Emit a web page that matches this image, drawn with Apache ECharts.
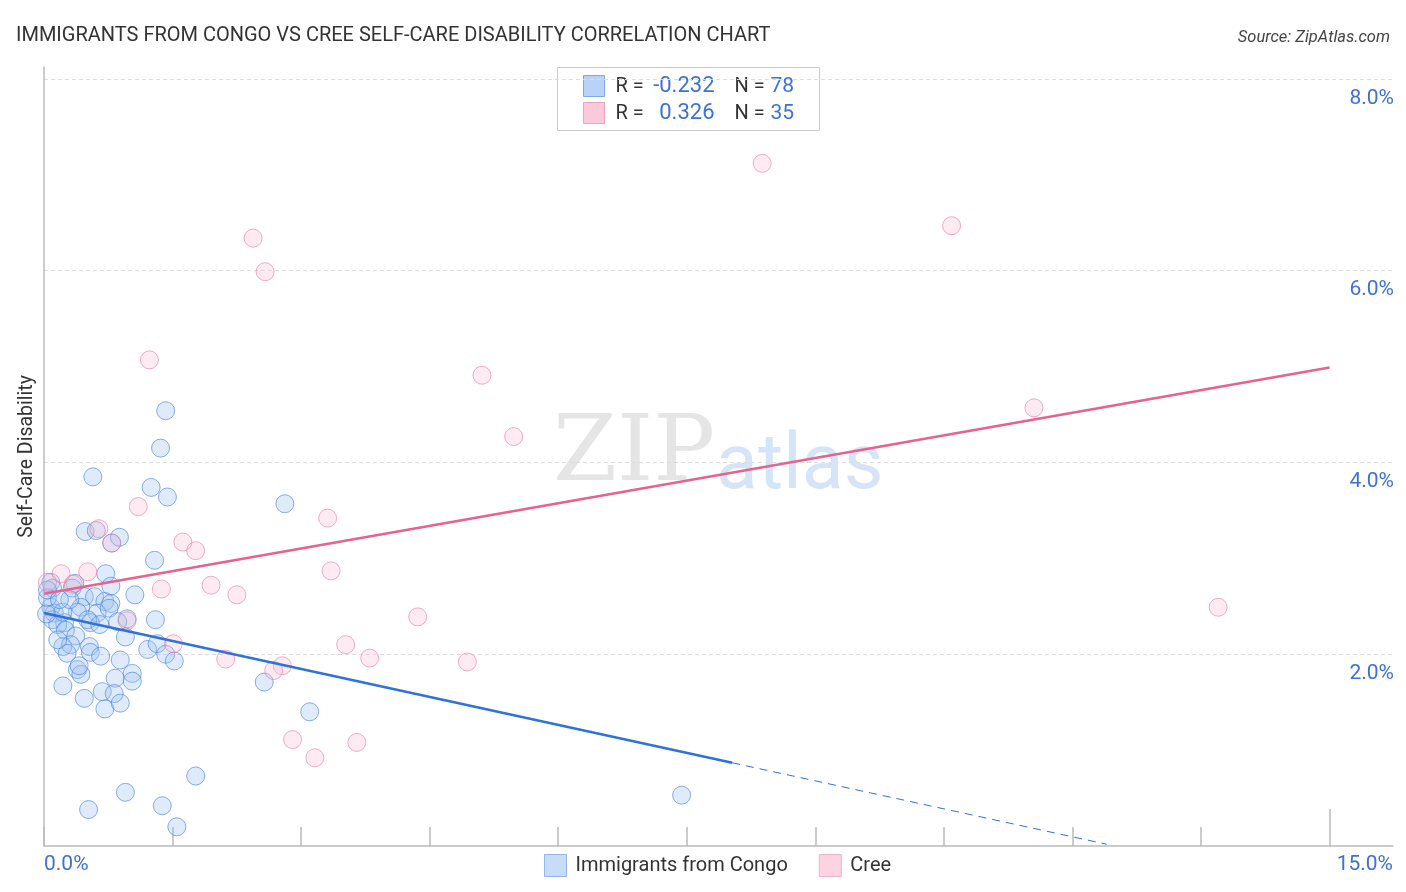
<!DOCTYPE html>
<html>
<head>
<meta charset="utf-8">
<script src="https://cdn.jsdelivr.net/npm/echarts@6/dist/echarts.min.js"></script>
<style>
html,body{margin:0;padding:0;background:#fff;}
#chart{width:1406px;height:892px;}
</style>
</head>
<body>
<div id="chart"></div>
<script>
// ---- data (values in %) ----
const seriesNames = ['Immigrants from Congo', 'Cree'];
const congoPoints = [
  [1.42,4.54],[1.36,4.15],[0.57,3.85],[1.25,3.74],[1.44,3.64],[2.81,3.57],[0.48,3.28],[0.61,3.29],
  [0.79,3.16],[0.88,3.22],[1.29,2.98],[0.72,2.84],[0.08,2.75],[0.36,2.74],[0.33,2.69],[0.10,2.69],
  [0.78,2.71],[1.06,2.62],[0.47,2.60],[0.59,2.60],[0.71,2.55],[0.78,2.53],[0.43,2.49],[0.08,2.49],
  [0.12,2.43],[0.39,2.44],[0.62,2.43],[0.76,2.48],[0.97,2.37],[1.30,2.36],[0.54,2.33],[0.24,2.33],
  [0.10,2.36],[0.16,2.31],[0.04,2.59],[0.03,2.42],[0.25,2.25],[0.37,2.19],[0.95,2.18],[0.22,2.08],
  [0.31,2.10],[0.27,2.01],[0.53,2.08],[0.54,2.02],[0.66,1.98],[0.89,1.94],[1.21,2.05],[1.32,2.11],
  [1.42,2.00],[1.52,1.93],[0.39,1.84],[0.43,1.79],[0.41,1.88],[0.22,1.67],[0.83,1.75],[1.03,1.80],
  [1.03,1.72],[0.47,1.54],[0.68,1.61],[0.82,1.59],[0.71,1.43],[0.89,1.49],[2.57,1.71],[3.10,1.40],
  [1.77,0.73],[0.95,0.56],[1.38,0.42],[0.52,0.38],[1.55,0.20],[7.44,0.53],[0.51,2.36],[0.22,2.44],
  [0.04,2.67],[0.65,2.31],[0.30,2.57],[0.86,2.34],[0.16,2.15],[0.18,2.57]
];
const creePoints = [
  [8.38,7.12],[10.59,6.47],[2.44,6.34],[2.58,5.99],[1.23,5.07],[5.11,4.91],[11.55,4.57],[5.48,4.27],
  [1.10,3.54],[3.31,3.42],[0.64,3.31],[0.79,3.16],[1.62,3.17],[1.77,3.08],[0.20,2.84],[0.51,2.86],
  [3.35,2.87],[1.95,2.72],[1.37,2.68],[2.25,2.62],[4.36,2.39],[13.70,2.49],[0.97,2.35],[1.51,2.11],
  [3.52,2.10],[3.80,1.96],[2.12,1.95],[4.94,1.92],[2.78,1.88],[2.68,1.83],[2.90,1.11],[3.65,1.08],
  [3.16,0.92],[0.04,2.75],[0.34,2.73]
];
const congoTrendSolid = [[0, 2.43], [8.03, 0.868]];
const congoTrendDashed = [[8.03, 0.868], [12.4, 0.018]];
const creeTrend = [[0, 2.63], [15, 4.99]];
const stats = { congo: { r: '-0.232', n: '78' }, cree: { r: '0.326', n: '35' } };
const xTicks = [0, 1.5, 3, 4.5, 6, 7.5, 9, 10.5, 12, 13.5, 15];
const yLabels = [2, 4, 6, 8];
const X_MAX = 15.74, Y_MAX = 8.125;

const BLUE = '#2f72d8', PINK = '#e8628f', LABEL = '#3d72cf', DARK = '#333333';
const FONT = 'Roboto, "Noto Sans", sans-serif';
const chart = echarts.init(document.getElementById('chart'));
const option = {
  backgroundColor: '#ffffff',
  animation: false,
  textStyle: { fontFamily: FONT },
  title: [
    { text: 'IMMIGRANTS FROM CONGO VS CREE SELF-CARE DISABILITY CORRELATION CHART', left: 11, top: 21,
      textStyle: { fontSize: 20, fontWeight: 'normal', color: DARK, fontFamily: FONT } },
    { text: 'Source: ZipAtlas.com', right: 11, top: 24,
      textStyle: { fontSize: 16.5, fontWeight: 'normal', fontStyle: 'italic', color: '#444', fontFamily: FONT } }
  ],
  grid: { left: 44, right: 13, top: 67, bottom: 46, containLabel: false },
  legend: {
    bottom: 10, left: 539, itemWidth: 22, itemHeight: 22, itemGap: 31,
    icon: 'rect',
    textStyle: { fontSize: 20, color: DARK, padding: [0, 0, 0, 4] },
    data: [
      { name: seriesNames[0], itemStyle: { color: '#b9d3f6', borderColor: '#7ea8e6', borderWidth: 1 } },
      { name: seriesNames[1], itemStyle: { color: '#fbc9d9', borderColor: '#eea2bb', borderWidth: 1 } }
    ]
  },
  xAxis: [
    {
      type: 'value', min: 0, max: X_MAX,
      axisLine: { show: true, lineStyle: { color: '#bbbbbb', width: 1.5 } },
      axisTick: { show: true, inside: true, length: 19, customValues: xTicks, lineStyle: { color: '#bbbbbb', width: 1.5 } },
      axisLabel: { show: true, customValues: [0, X_MAX], margin: 8, fontSize: 21, color: LABEL,
        alignMinLabel: 'left', alignMaxLabel: 'right',
        formatter: v => (v === 0 ? '0.0%' : xTicks[xTicks.length - 1].toFixed(1) + '%') },
      splitLine: { show: false }
    },
    {
      type: 'value', min: 0, max: X_MAX, position: 'bottom',
      axisLine: { show: false },
      axisTick: { show: true, inside: true, length: 37, customValues: [15], lineStyle: { color: '#bbbbbb', width: 1.5 } },
      axisLabel: { show: false }, splitLine: { show: false }
    }
  ],
  yAxis: [
    {
      type: 'value', min: 0, max: Y_MAX, interval: 2, position: 'left',
      name: 'Self-Care Disability', nameLocation: 'middle', nameGap: 7,
      nameTextStyle: { fontSize: 19.5, color: DARK },
      axisLine: { show: true, lineStyle: { color: '#bbbbbb', width: 1.5 } },
      axisTick: { show: false }, axisLabel: { show: false },
      splitLine: { show: true, showMinLine: false, showMaxLine: false, lineStyle: { color: '#dddddd', type: [4, 3], width: 1 } }
    },
    {
      type: 'value', min: 0, max: Y_MAX, position: 'right',
      axisLine: { show: false }, axisTick: { show: false }, splitLine: { show: false },
      axisLabel: { show: true, inside: true, margin: -1, customValues: yLabels, fontSize: 21, color: LABEL,
        verticalAlign: 'top', padding: [9, 0, 0, 0], formatter: v => v.toFixed(1) + '%' }
    }
  ],
  graphic: [
    { type: 'text', left: 553, top: 410, z: 0, silent: true,
      style: { text: 'ZIP', font: '92px "DejaVu Serif", "Liberation Serif", serif', fill: 'rgba(180,180,180,0.35)' } },
    { type: 'text', left: 716, top: 430, z: 0, silent: true,
      style: { text: 'atlas', font: '77px Roboto, sans-serif', fill: 'rgba(150,190,235,0.4)' } },
    { type: 'group', left: 557, top: 67, z: 100, children: [
      { type: 'rect', shape: { x: 0, y: 0, width: 262, height: 63 }, style: { fill: '#ffffff', stroke: '#cccccc', lineWidth: 1 } },
      { type: 'rect', shape: { x: 26, y: 8, width: 21, height: 21 }, style: { fill: '#b9d3f6', stroke: '#7ea8e6', lineWidth: 1 } },
      { type: 'rect', shape: { x: 26, y: 35, width: 21, height: 21 }, style: { fill: '#fbc9d9', stroke: '#eea2bb', lineWidth: 1 } },
      { type: 'text', x: 58, y: 19, style: { text: 'R =', font: '20px ' + FONT, fill: DARK, textVerticalAlign: 'middle' } },
      { type: 'text', x: 157, y: 19, style: { text: stats.congo.r, font: '22px ' + FONT, fill: LABEL, textAlign: 'right', textVerticalAlign: 'middle' } },
      { type: 'text', x: 177, y: 19, style: { text: 'N =', font: '20px ' + FONT, fill: DARK, textVerticalAlign: 'middle' } },
      { type: 'text', x: 213, y: 19, style: { text: stats.congo.n, font: '21px ' + FONT, fill: LABEL, textVerticalAlign: 'middle' } },
      { type: 'text', x: 58, y: 46, style: { text: 'R =', font: '20px ' + FONT, fill: DARK, textVerticalAlign: 'middle' } },
      { type: 'text', x: 157, y: 46, style: { text: stats.cree.r, font: '22px ' + FONT, fill: LABEL, textAlign: 'right', textVerticalAlign: 'middle' } },
      { type: 'text', x: 177, y: 46, style: { text: 'N =', font: '20px ' + FONT, fill: DARK, textVerticalAlign: 'middle' } },
      { type: 'text', x: 213, y: 46, style: { text: stats.cree.n, font: '21px ' + FONT, fill: LABEL, textVerticalAlign: 'middle' } }
    ]}
  ],
  series: [
    { name: seriesNames[0], type: 'scatter', data: congoPoints, symbolSize: 18, z: 2,
      itemStyle: { color: 'rgba(160,196,242,0.42)', borderColor: 'rgba(70,130,220,0.8)', borderWidth: 1 } },
    { name: seriesNames[1], type: 'scatter', data: creePoints, symbolSize: 18, z: 2,
      itemStyle: { color: 'rgba(249,190,210,0.38)', borderColor: 'rgba(232,120,160,0.75)', borderWidth: 1 } },
    { name: 'congoTrend', type: 'line', data: congoTrendSolid, symbol: 'none', z: 5, silent: true,
      lineStyle: { color: BLUE, width: 2.5 } },
    { name: 'congoTrendDash', type: 'line', data: congoTrendDashed, symbol: 'none', z: 5, silent: true,
      lineStyle: { color: BLUE, width: 1, type: [8, 6] } },
    { name: 'creeTrend', type: 'line', data: creeTrend, symbol: 'none', z: 5, silent: true,
      lineStyle: { color: PINK, width: 2.5 } }
  ]
};
chart.setOption(option);
</script>
</body>
</html>
